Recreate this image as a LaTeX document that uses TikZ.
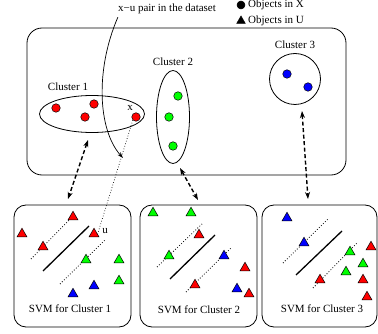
\documentclass[tikz,border=0pt]{standalone}
\usepackage{fontspec}
\setmainfont{Liberation Serif}
\usetikzlibrary{shapes.geometric,arrows.meta}
\tikzset{
  dot/.style={circle,draw=black,line width=0.5pt,minimum size=8.5pt,inner sep=0pt},
  tri/.style={regular polygon,regular polygon sides=3,draw=black,line width=0.5pt,minimum size=11.5pt,inner sep=0pt},
  rdot/.style={dot,fill=red}, gdot/.style={dot,fill=green}, bdot/.style={dot,fill=blue},
  rtri/.style={tri,fill=red}, gtri/.style={tri,fill=green}, btri/.style={tri,fill=blue},
  bigbox/.style={draw=black,line width=0.8pt,rounded corners=15pt},
  svmbox/.style={draw=black,line width=0.8pt,rounded corners=12pt},
  lbl/.style={font=\fontsize{11}{13}\selectfont,inner sep=0pt},
  plane/.style={line width=1.3pt},
  margin/.style={dotted,line width=0.8pt},
  link/.style={dashed,dash pattern=on 4pt off 2.5pt,line width=1.4pt,{Stealth[length=7pt,width=5pt]}-{Stealth[length=7pt,width=5pt]}},
}
\begin{document}
\begin{tikzpicture}[x=1pt,y=-1pt]
\useasboundingbox (0,0) rectangle (378,334);
% legend
\node[dot,fill=black,minimum size=8pt] (lx) at (241,5) {};
\node[lbl,anchor=west] (lxt) at (248,5) {Objects in X};
\node[tri,fill=black,minimum size=10pt] (lu) at (241,21) {};
\node[lbl,anchor=west] (lut) at (248,21) {Objects in U};
\node[lbl] (pair) at (167,9) {x\textminus u pair in the dataset};
% top box
\node[bigbox,minimum width=319pt,minimum height=147pt] (top) at (186.5,101.5) {};
% clusters
\node[lbl] (c1l) at (68,87) {Cluster 1};
\node[ellipse,draw,line width=0.8pt,minimum width=105pt,minimum height=37pt] (c1) at (92,114) {};
\node[rdot] (r1) at (56,108) {};
\node[rdot] (r2) at (94,104) {};
\node[rdot] (r3) at (85,117) {};
\node[rdot] (rx) at (136,117) {};
\node[lbl] (xl) at (130,108) {x};
\node[lbl] (c2l) at (173,62) {Cluster 2};
\node[ellipse,draw,line width=0.8pt,minimum width=33pt,minimum height=93pt] (c2) at (173,117) {};
\node[gdot] (g1) at (178,96) {};
\node[gdot] (g2) at (169,117) {};
\node[gdot] (g3) at (173,146) {};
\node[lbl] (c3l) at (295,45) {Cluster 3};
\node[circle,draw,line width=0.8pt,minimum size=51pt] (c3) at (295,79) {};
\node[bdot] (b1) at (287,74) {};
\node[bdot] (b2) at (308,87) {};
% bottom boxes
\node[svmbox,minimum width=117pt,minimum height=122pt] (s1) at (72.5,266) {};
\node[svmbox,minimum width=117pt,minimum height=122pt] (s2) at (198.5,266) {};
\node[svmbox,minimum width=115pt,minimum height=122pt] (s3) at (319.5,266) {};
\node[lbl] (s1l) at (70,309) {SVM for Cluster 1};
\node[lbl] (s2l) at (199,310) {SVM for Cluster 2};
\node[lbl] (s3l) at (322,309) {SVM for Cluster 3};
% box 1 contents
\coordinate (p1a) at (43,271); \coordinate (p1b) at (89,226);
\coordinate (m1a) at (31,259); \coordinate (m1b) at (76,213);
\coordinate (n1a) at (60,284); \coordinate (n1b) at (106,239);
\draw[plane] (p1a) -- (p1b);
\draw[margin] (m1a) -- (m1b);
\draw[margin] (n1a) -- (n1b);
\node[rtri] (t11) at (73,217) {};
\node[rtri] (t12) at (22,234) {};
\node[rtri] (t13) at (43,247) {};
\node[rtri] (tu) at (94,234) {};
\node[gtri] (t14) at (86,260) {};
\node[gtri] (t15) at (119,260) {};
\node[gtri] (t16) at (119,281) {};
\node[btri] (t17) at (94,286) {};
\node[btri] (t18) at (73,294) {};
\node[lbl] (ul) at (105,231) {u};
% box 2 contents
\coordinate (p2a) at (170,279); \coordinate (p2b) at (215,235);
\coordinate (m2a) at (157,267); \coordinate (m2b) at (203,223);
\coordinate (n2a) at (186,292); \coordinate (n2b) at (232,247);
\draw[plane] (p2a) -- (p2b);
\draw[margin] (m2a) -- (m2b);
\draw[margin] (n2a) -- (n2b);
\node[gtri] (t21) at (153,213) {};
\node[gtri] (t22) at (191,213) {};
\node[gtri] (t23) at (169,256) {};
\node[rtri] (t24) at (199,235) {};
\node[rtri] (t25) at (245,268) {};
\node[rtri] (t26) at (195,285) {};
\node[rtri] (t27) at (249,294) {};
\node[btri] (t28) at (224,256) {};
\node[btri] (t29) at (237,289) {};
% box 3 contents
\coordinate (p3a) at (296,275); \coordinate (p3b) at (342,231);
\coordinate (m3a) at (283,263); \coordinate (m3b) at (329,218);
\coordinate (n3a) at (313,288); \coordinate (n3b) at (358,242);
\draw[plane] (p3a) -- (p3b);
\draw[margin] (m3a) -- (m3b);
\draw[margin] (n3a) -- (n3b);
\node[btri] (t31) at (287,218) {};
\node[btri] (t32) at (304,243) {};
\node[gtri] (t33) at (350,252) {};
\node[gtri] (t34) at (363,264) {};
\node[gtri] (t35) at (346,272) {};
\node[rtri] (t36) at (371,247) {};
\node[rtri] (t37) at (320,280) {};
\node[rtri] (t38) at (363,280) {};
\node[rtri] (t39) at (367,297) {};
% connectors
\coordinate (a1t) at (88,140); \coordinate (a1b) at (68,199);
\coordinate (a2t) at (180,168); \coordinate (a2b) at (198,200);
\coordinate (a3t) at (302,111); \coordinate (a3b) at (308,199);
\draw[link] (a1t) -- (a1b);
\draw[link] (a2t) -- (a2b);
\draw[link] (a3t) -- (a3b);
\coordinate (pairend) at (123,158);
\draw[line width=0.7pt,-{Stealth[length=6pt,width=4pt]}] (pair.south west) ++(0,3) .. controls (95,70) and (98,130) .. (pairend);
\draw[dotted,line width=0.7pt] (rx.south west) -- (tu.east);
\end{tikzpicture}
\end{document}
